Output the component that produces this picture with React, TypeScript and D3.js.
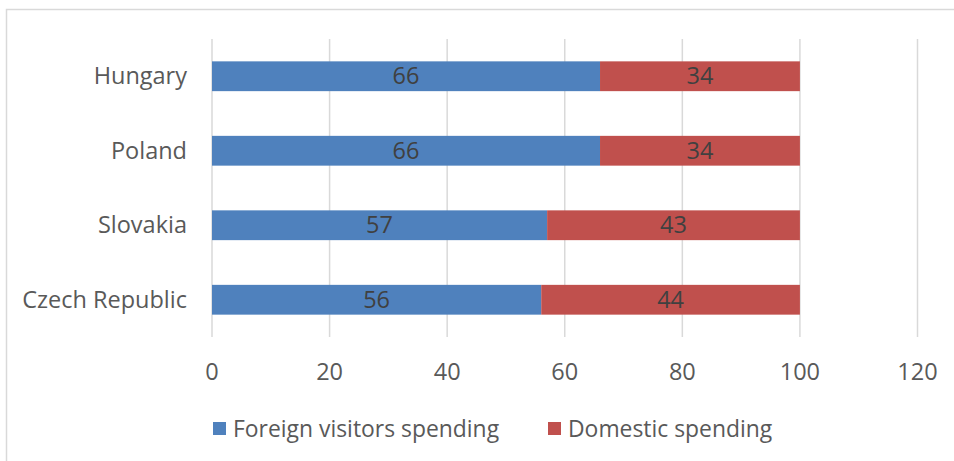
import React from "react";
import * as d3 from "d3";

const categories = ["Hungary", "Poland", "Slovakia", "Czech Republic"];
const foreign = [66, 66, 57, 56];
const domestic = [34, 34, 43, 44];
const seriesNames = ["Foreign visitors spending", "Domestic spending"];
const ticks = [0, 20, 40, 60, 80, 100, 120];

const W = 954;
const H = 461;
const FONT = "'Open Sans', sans-serif";
const FS = 23.5;
const LEGEND_FS = 22.9;
const colors = ["#4F81BD", "#C0504D"];

export default function App() {
  const x = d3.scaleLinear().domain([0, 120]).range([212, 917.5]);
  const y = d3.scaleBand<string>().domain(categories).range([39, 337]).paddingInner(0.6).paddingOuter(0.3);
  const stacks = categories.map((c, i) => ({ c, vals: [foreign[i], domestic[i]] }));
  return (
    <svg width={W} height={H} style={{ position: "absolute", left: 0, top: 0, background: "#fff" }} fontFamily={FONT}>
      <rect x={6.5} y={9.5} width={W + 10} height={H + 10} fill="#fff" stroke="#D9D9D9" strokeWidth={1.5} />
      {ticks.map((t) => (
        <line key={"g" + t} x1={x(t)} x2={x(t)} y1={39} y2={337} stroke="#D9D9D9" strokeWidth={1.5} />
      ))}
      {stacks.map((s) => {
        let acc = 0;
        return s.vals.map((v, k) => {
          const x0 = acc;
          acc += v;
          return (
            <g key={s.c + k}>
              <rect x={x(x0)} y={y(s.c)!} width={x(acc) - x(x0)} height={y.bandwidth()} fill={colors[k]} />
              <text x={(x(x0) + x(acc)) / 2} y={y(s.c)! + y.bandwidth() / 2} dy="0.35em" textAnchor="middle" fontSize={FS} fill="#404040">
                {v}
              </text>
            </g>
          );
        });
      })}
      {categories.map((c) => (
        <text key={"l" + c} x={187} y={y(c)! + y.bandwidth() / 2} dy="0.35em" textAnchor="end" fontSize={FS} fill="#595959">
          {c}
        </text>
      ))}
      {ticks.map((t) => (
        <text key={"t" + t} x={x(t)} y={372} dy="0.35em" textAnchor="middle" fontSize={FS} fill="#595959">
          {t}
        </text>
      ))}
      {(() => {
        const items = [
          { x: 213, name: seriesNames[0], color: colors[0] },
          { x: 548, name: seriesNames[1], color: colors[1] },
        ];
        return items.map((it) => (
          <g key={it.name}>
            <rect x={it.x} y={422} width={13} height={13} fill={it.color} />
            <text x={it.x + 20} y={429} dy="0.35em" fontSize={LEGEND_FS} fill="#595959">
              {it.name}
            </text>
          </g>
        ));
      })()}
    </svg>
  );
}
